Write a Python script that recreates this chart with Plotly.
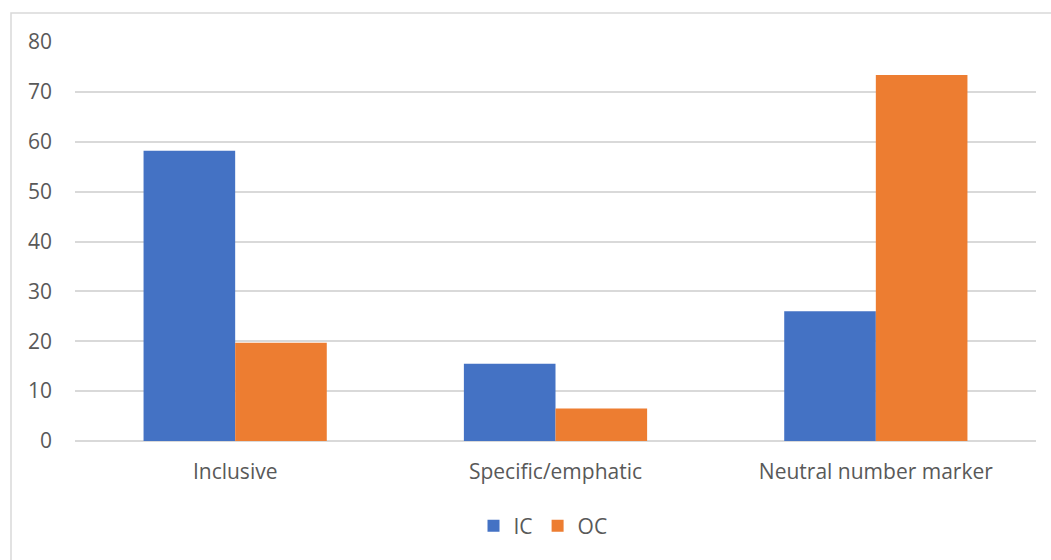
import plotly.graph_objects as go

categories = ["Inclusive", "Specific/emphatic", "Neutral number marker"]
ic_values = [58.2, 15.5, 26.0]
oc_values = [19.7, 6.5, 73.4]
y_ticks = [0, 10, 20, 30, 40, 50, 60, 70, 80]

W, H = 1051, 560
L, R, T, B = 75, 15, 42, 119

fig = go.Figure()
fig.add_trace(go.Bar(name="IC", x=categories, y=ic_values, marker=dict(color="#4472C4", line=dict(width=0))))
fig.add_trace(go.Bar(name="OC", x=categories, y=oc_values, marker=dict(color="#ED7D31", line=dict(width=0))))

font = dict(family="Open Sans, sans-serif", size=21, color="#595959")

fig.update_layout(
    width=W, height=H,
    margin=dict(l=L, r=R, t=T, b=B, pad=0),
    paper_bgcolor="white", plot_bgcolor="white",
    barmode="group", bargap=0.428, bargroupgap=0,
    font=font,
    showlegend=True,
    legend=dict(orientation="h", x=0.487, xanchor="center", y=-0.213, yanchor="middle",
                font=font, traceorder="normal", itemwidth=30, tracegroupgap=0),
    xaxis=dict(showgrid=False, showline=False, ticks="", tickfont=font,
               ticklabelstandoff=16),
    yaxis=dict(range=[0, 80], tickvals=y_ticks, showgrid=True, gridcolor="#d9d9d9", gridwidth=1.5,
               zeroline=True, zerolinecolor="#d9d9d9", zerolinewidth=1.5,
               showline=False, ticks="", tickfont=font, ticklabelstandoff=22),
    shapes=[dict(type="rect", xref="paper", yref="paper",
                 x0=(11 - L) / (W - L - R), x1=(W + 5 - L) / (W - L - R),
                 y0=-(H + 5 - T - (H - T - B)) / (H - T - B), y1=(H - 13 - B) / (H - T - B),
                 line=dict(color="#d9d9d9", width=1.5), fillcolor="rgba(0,0,0,0)", layer="below")],
)

fig.write_html("out.html")
